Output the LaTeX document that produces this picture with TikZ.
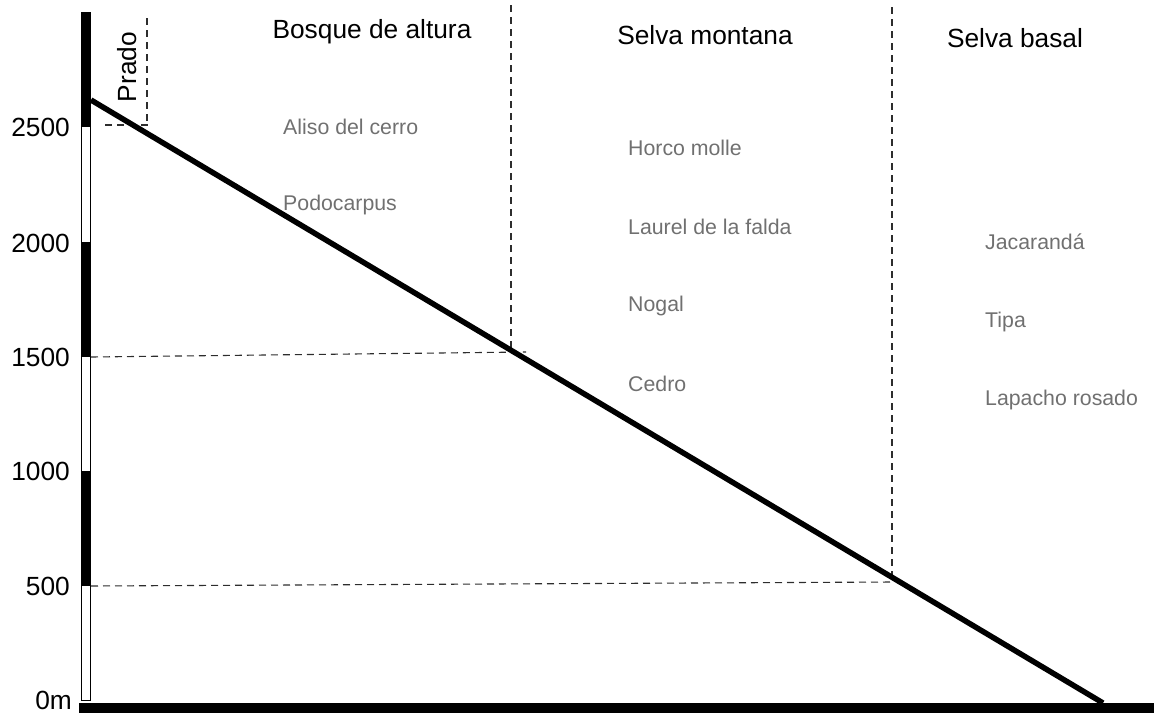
\documentclass[tikz,border=0pt]{standalone}
\usepackage{fontspec}
\setmainfont{Liberation Sans}
\definecolor{plant}{RGB}{112,112,112}
\definecolor{dashc}{RGB}{45,45,45}
\begin{document}
\begin{tikzpicture}[x=1pt,y=-1pt,
  tick/.style={anchor=east,inner sep=0pt,font=\fontsize{26.3}{30}\selectfont},
  zone/.style={inner sep=0pt,font=\fontsize{26.3}{30}\selectfont},
  plantlbl/.style={anchor=west,inner sep=0pt,text=plant,font=\fontsize{21.3}{25}\selectfont},
  guide/.style={draw=dashc,line width=1.1pt,dash pattern=on 7pt off 5pt},
  slope/.style={line width=5.5pt}]
\useasboundingbox (0,0) rectangle (1154,713);
% altitude bar
\fill (81,12) rectangle (91,127);
\fill (81,242) rectangle (91,357);
\fill (81,471) rectangle (91,586);
\draw[line width=1pt] (81.5,12) rectangle (90.5,700);
% ground
\fill (79,703) rectangle (1154,713);
% key points
\coordinate (top) at (91,100);
\coordinate (foot) at (1103,703);
\coordinate (p2500l) at (105,125);
\coordinate (p2500r) at (150,125);
\coordinate (prtop) at (147,18);
\coordinate (prbot) at (147,125);
\coordinate (p1500l) at (91,357);
\coordinate (p1500r) at (526,352);
\coordinate (v1500t) at (511,5);
\coordinate (v1500b) at (511,352);
\coordinate (p500l) at (91,586);
\coordinate (p500r) at (893,582);
\coordinate (v500t) at (892,7);
\coordinate (v500b) at (892,582);
% dashed guides
\draw[guide] (p2500l) -- (p2500r);
\draw[guide] (prtop) -- (prbot);
\draw[guide] (p1500l) -- (p1500r);
\draw[guide] (v1500t) -- (v1500b);
\draw[guide] (p500l) -- (p500r);
\draw[guide] (v500t) -- (v500b);
% slope
\draw[slope] (top) -- (foot);
% tick labels
\node[tick] (t2500) at (70,127) {2500};
\node[tick] (t2000) at (70,243) {2000};
\node[tick] (t1500) at (70,357) {1500};
\node[tick] (t1000) at (70,471) {1000};
\node[tick] (t500) at (70,586) {500};
\node[tick] (t0) at (72,700) {0m};
% zone titles
\node[zone] (bosque) at (372,32) {Bosque de altura};
\node[zone] (montana) at (705,35) {Selva montana};
\node[zone] (basal) at (1015,38) {Selva basal};
\node[zone,rotate=90] (prado) at (127,67) {Prado};
% plants
\node[plantlbl] (aliso) at (283,127) {Aliso del cerro};
\node[plantlbl] (podo) at (283,205) {Podocarpus};
\node[plantlbl] (horco) at (628,148) {Horco molle};
\node[plantlbl] (laurel) at (628,227) {Laurel de la falda};
\node[plantlbl] (nogal) at (628,306) {Nogal};
\node[plantlbl] (cedro) at (628,384) {Cedro};
\node[plantlbl] (jaca) at (985,242) {Jacarandá};
\node[plantlbl] (tipa) at (985,322) {Tipa};
\node[plantlbl] (lapacho) at (985,400) {Lapacho rosado};
\end{tikzpicture}
\end{document}
